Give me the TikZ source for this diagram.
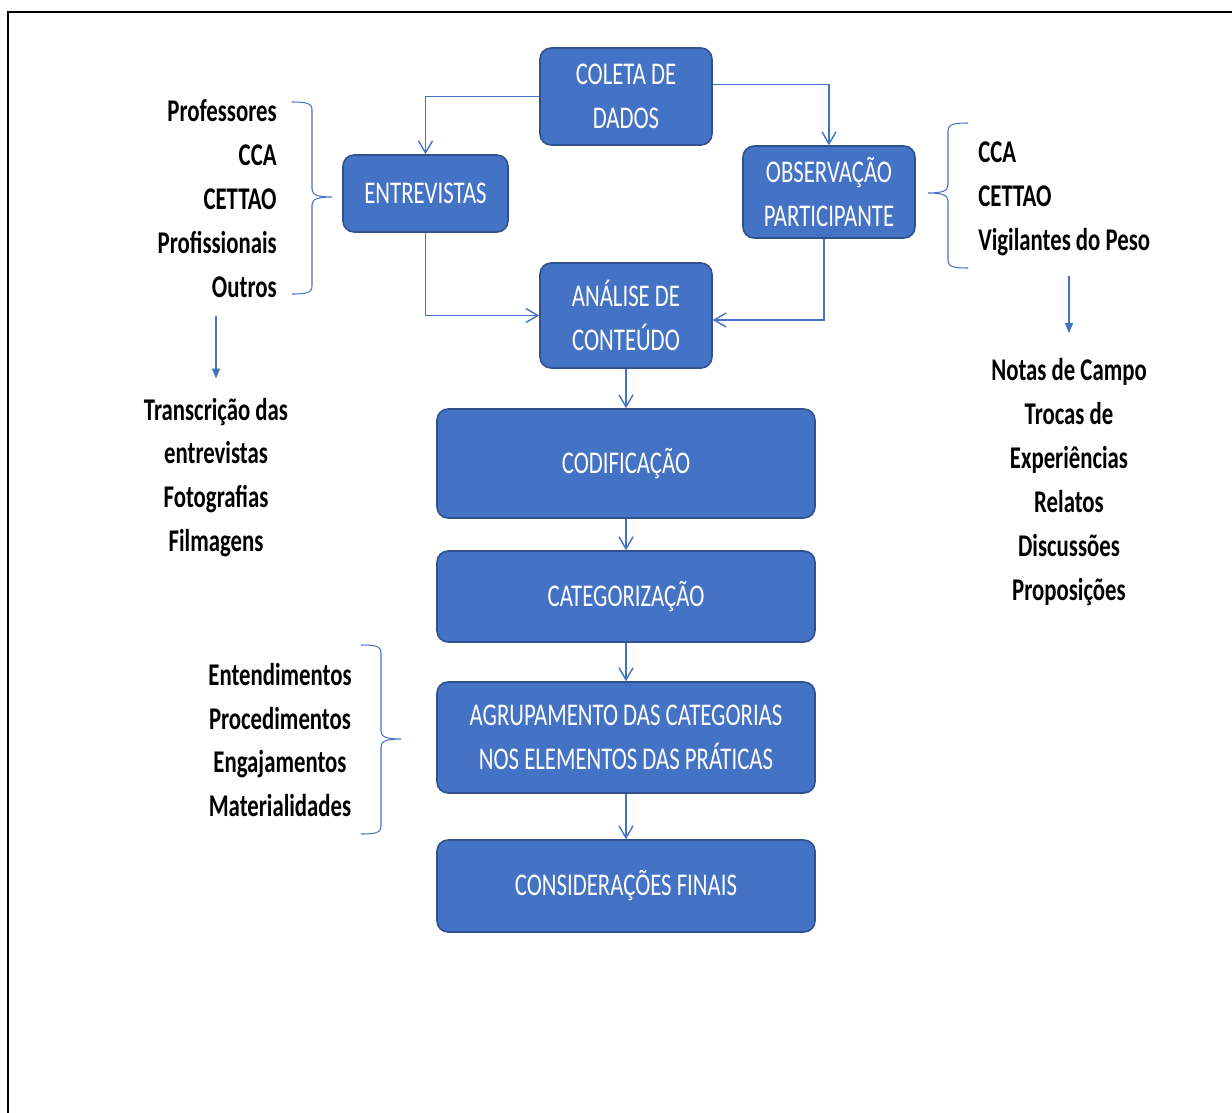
\documentclass[tikz,border=0pt]{standalone}
\usepackage{fontspec}
\setmainfont{Carlito}[FakeStretch=0.72]
\usetikzlibrary{arrows.meta}
\definecolor{boxblue}{HTML}{4472C4}
\definecolor{boxedge}{HTML}{2F528F}
\tikzset{
  etapa/.style={draw=boxedge, line width=0.9pt, fill=boxblue, rounded corners=0.22cm, text=white, align=center, inner sep=0pt, font=\fontsize{18}{25}\selectfont},
  lista/.style={inner sep=0pt, font=\bfseries\fontsize{18}{25}\selectfont},
  fluxo/.style={draw=boxblue, line width=0.8pt, -{Straight Barb[length=2.4mm,width=2.8mm]}},
  seta/.style={draw=boxblue, line width=0.8pt, -{Triangle[length=2mm,width=1.6mm]}},
  chave/.style={draw=boxblue, line width=0.6pt}
}
% chave: x das pontas, y de cima, y da ponta, y de baixo, meia largura (sinal = lado)
\newcommand{\chave}[5]{%
  \draw[chave] (#1,#2) .. controls ({#1+0.7*#5},#2) and ({#1+#5},{#2+1}) .. ({#1+#5},{#2+8})
    -- ({#1+#5},{#3-8}) .. controls ({#1+#5},{#3-2}) and ({#1+1.3*#5},#3) .. ({#1+2*#5},#3)
    .. controls ({#1+1.3*#5},#3) and ({#1+#5},{#3+2}) .. ({#1+#5},{#3+8})
    -- ({#1+#5},{#4-8}) .. controls ({#1+#5},{#4-1}) and ({#1+0.7*#5},#4) .. (#1,#4);}

\begin{document}
\begin{tikzpicture}[x=0.02cm,y=-0.02cm]
\useasboundingbox (0,0) rectangle (1232,1113);
\draw[line width=1.2pt] (8,1113) -- (8,12) -- (1232,12);

\node[etapa, minimum width=3.44cm, minimum height=1.94cm] (coleta) at (626,96.5) {COLETA DE\\DADOS};
\node[etapa, minimum width=3.3cm, minimum height=1.54cm] (entrev) at (425.5,193.5) {ENTREVISTAS};
\node[etapa, minimum width=3.44cm, minimum height=1.84cm] (observ) at (829,192) {OBSERVAÇÃO\\PARTICIPANTE};
\node[etapa, minimum width=3.44cm, minimum height=2.1cm] (analise) at (626,315.5) {ANÁLISE DE\\CONTEÚDO};
\node[etapa, minimum width=7.56cm, minimum height=2.18cm] (codif) at (626,463.5) {CODIFICAÇÃO};
\node[etapa, minimum width=7.56cm, minimum height=1.82cm] (categ) at (626,596.5) {CATEGORIZAÇÃO};
\node[etapa, minimum width=7.56cm, minimum height=2.22cm] (agrup) at (626,737.5) {AGRUPAMENTO DAS CATEGORIAS\\NOS ELEMENTOS DAS PRÁTICAS};
\node[etapa, minimum width=7.56cm, minimum height=1.84cm] (consid) at (626,886) {CONSIDERAÇÕES FINAIS};

\node[lista, align=right, anchor=east] (sujeitos) at (277,198.5) {Professores\\CCA\\CETTAO\\Profissionais\\Outros};
\node[lista, align=center] (registros) at (216,477.5) {Transcrição das\\entrevistas\\Fotografias\\Filmagens};
\node[lista, align=left, anchor=west] (campos) at (978,199) {CCA\\CETTAO\\Vigilantes do Peso};
\node[lista, align=center] (notas) at (1069,482) {Notas de Campo\\Trocas de\\Experiências\\Relatos\\Discussões\\Proposições};
\node[lista, align=center] (elementos) at (280,740) {Entendimentos\\Procedimentos\\Engajamentos\\Materialidades};

\draw[fluxo] (coleta.west) -| (entrev.north);
\draw[fluxo] ([yshift=0.24cm]coleta.east) -| (observ.north);
\draw[fluxo] (entrev.south) |- (analise.west);
\draw[fluxo] ([xshift=-0.1cm]observ.south) |- ([yshift=-0.09cm]analise.east);
\draw[fluxo] (analise) -- (codif);
\draw[fluxo] (codif) -- (categ);
\draw[fluxo] (categ) -- (agrup);
\draw[fluxo] (agrup) -- (consid);

\draw[seta] ([yshift=-0.36cm]sujeitos.south -| registros.north) -- ([yshift=0.38cm]registros.north);
\draw[seta] ([yshift=-0.4cm]campos.south -| notas.north) -- ([yshift=0.5cm]notas.north);

\chave{292}{102}{197}{294}{20}
\chave{968}{123}{193}{268}{-20}
\chave{361}{645}{739}{834}{20}
\end{tikzpicture}
\end{document}
